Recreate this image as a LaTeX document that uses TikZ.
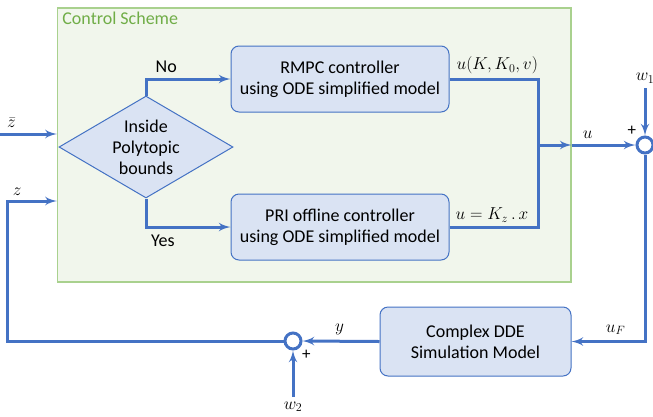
\documentclass[tikz,border=0pt]{standalone}
\usepackage{fontspec}
\setmainfont{Carlito}
\usetikzlibrary{arrows,shapes.geometric}
\definecolor{lineblue}{RGB}{68,114,196}
\definecolor{boxfill}{RGB}{218,227,243}
\definecolor{schemefill}{RGB}{241,246,236}
\definecolor{schemeline}{RGB}{169,209,142}
\definecolor{schemetext}{RGB}{112,173,71}
\begin{document}
\begin{tikzpicture}[x=1pt,y=-1pt,font=\fontsize{18}{21}\selectfont]
	\tikzset{block/.style = {shape=rectangle,rounded corners=8pt,draw=lineblue,line width=1pt,fill=boxfill,align=center,minimum width=218pt,minimum height=66pt}}
	\tikzset{decide/.style = {shape=diamond,draw=lineblue,line width=1pt,fill=boxfill,align=center,inner sep=0pt,aspect=1.7,minimum width=174pt,minimum height=102pt}}
	\tikzset{sumpoint/.style = {shape=circle,draw=lineblue,line width=3pt,fill=white,minimum size=16pt,inner sep=0pt}}
	\tikzset{flow/.style = {->,> = latex',draw=lineblue,line width=3pt}}
	\tikzset{sign/.style = {font=\fontsize{17}{18}\selectfont,inner sep=0pt}}
	\tikzset{var/.style = {font=\fontsize{16.5}{19}\selectfont}}
	\useasboundingbox (0,0) rectangle (653,416);
	\node[draw=schemeline,fill=schemefill,line width=1.3pt,minimum width=513.5pt,minimum height=274pt] (scheme) at (314.25,145) {};
	\node[anchor=north west,text=schemetext] (title) at ([shift={(2,1)}]scheme.north west) {Control Scheme};
	\node[block] (rmpc) at (340,79) {RMPC controller\\using ODE simplified model};
	\node[block] (pri) at (340,227) {PRI offline controller\\using ODE simplified model};
	\node[decide] (check) at (146,147) {Inside\\Polytopic\\bounds};
	\node[block,minimum width=191pt,minimum height=69pt] (dde) at (475.5,341.5) {Complex DDE\\Simulation Model};
	\node[sumpoint,label={[sign,label distance=3pt]135:+}] (sumA) at (645,145) {};
	\node[sumpoint,label={[sign,label distance=3pt]-45:+}] (sumB) at (293,341) {};
	\coordinate (join) at (538,145);
	\coordinate (zbarin) at (0,134);
	\coordinate (zturn) at (7,201);
	\coordinate (w1in) at (645,88);
	\coordinate (w2in) at (293,397);
	\draw[flow] (check.north) |- node[pos=0.62,above=2pt] {No} (rmpc.west);
	\draw[flow] (check.south) |- node[pos=0.6,below=3pt] {Yes} (pri.west);
	\draw[flow,-] (rmpc.east) -| node[var,pos=0.27,above] {$u(K,K_0,v)$} (join);
	\draw[flow,-] (pri.east) -| node[var,pos=0.24,above] {$u=K_z\,.\,x$} (join);
	\draw[flow] (join) -- (scheme.east |- join);
	\draw[flow] (scheme.east |- join) -- node[var,pos=0.25,above=2pt] {$u$} (sumA.west);
	\draw[flow] (w1in) node[var,above] {$w_1$} -- (sumA.north);
	\draw[flow] (w2in) node[var,below] {$w_2$} -- (sumB.south);
	\draw[flow] (sumA.south) |- node[var,pos=0.7,above=2pt] {$u_F$} (dde.east);
	\draw[flow] (dde.west) -- node[var,pos=0.52,above=2pt] {$y$} (sumB.east);
	\draw[flow] (sumB.west) -| (zturn) node[var,above right=1pt] {$z$} -- (scheme.west |- zturn);
	\draw[flow] (zbarin) -- node[var,pos=0.2,above=2pt] {$\bar{z}$} (scheme.west |- zbarin);
\end{tikzpicture}
\end{document}
